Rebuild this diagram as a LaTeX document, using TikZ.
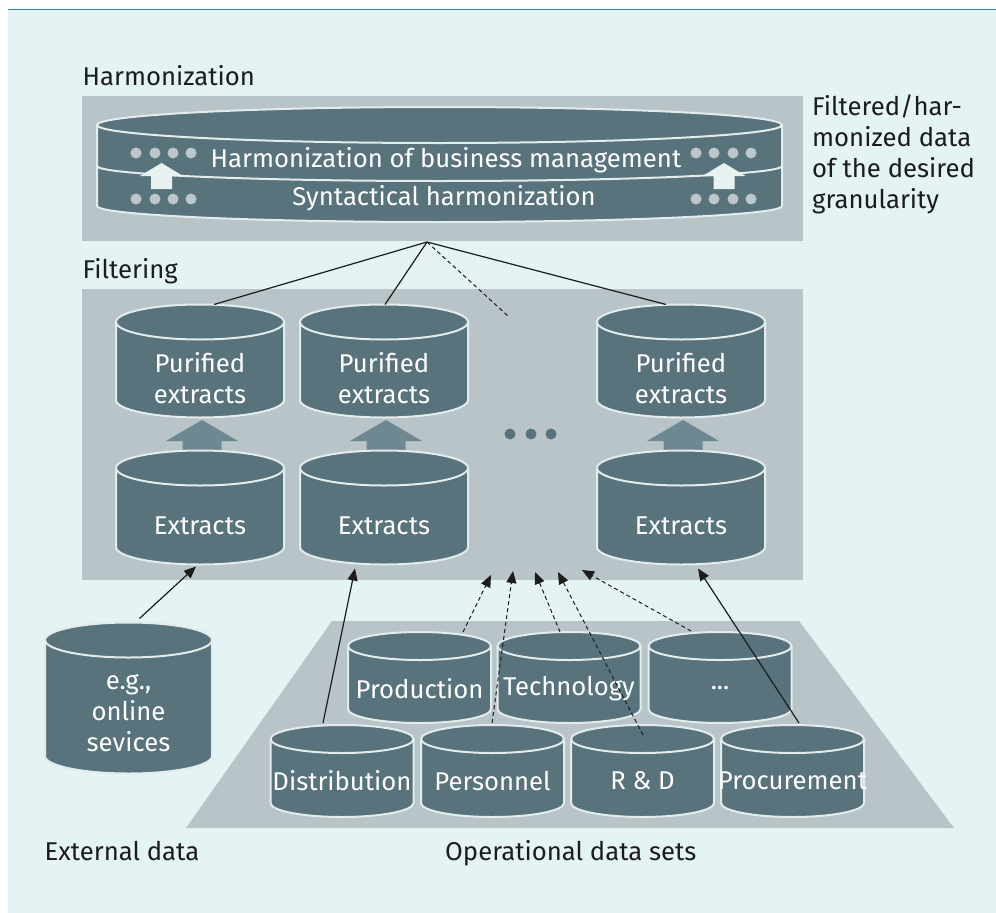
\documentclass[tikz,border=0pt]{standalone}
\usepackage{fontspec}
\setmainfont{Fira Sans}
\usetikzlibrary{calc,arrows.meta}

\definecolor{bgc}{RGB}{228,243,243}
\definecolor{rulec}{RGB}{52,138,140}
\definecolor{panelc}{RGB}{185,196,200}
\definecolor{cylc}{RGB}{88,115,124}
\definecolor{cyledge}{RGB}{226,236,236}
\definecolor{liftc}{RGB}{110,136,145}
\definecolor{dotc}{RGB}{188,199,203}
\definecolor{whitearr}{RGB}{232,242,240}
\definecolor{inkc}{RGB}{28,28,28}

\tikzset{
  cylfill/.style={fill=cylc},
  cylline/.style={draw=cyledge, line width=2pt},
  cyltext/.style={text=white, align=center, inner sep=0pt},
  label/.style={text=inkc, inner sep=0pt},
  panel/.style={fill=panelc},
  link/.style={draw=inkc, line width=1.2pt},
  linkarrow/.style={link, -{Triangle[length=12pt,width=10pt]}},
  dasharrow/.style={draw=inkc, line width=1pt, dash pattern=on 4pt off 3pt, -{Triangle[length=12pt,width=10pt]}},
  dashlink/.style={draw=inkc, line width=1pt, dash pattern=on 4pt off 3pt},
}

% database cylinder: name, cx, y of top ellipse centre, y of bottom ellipse centre,
% x radius, y radius, text shift, text
\newcommand\dbcyl[8]{%
  \fill[cylfill] ({#2-#5},#3) -- ({#2-#5},#4)
     arc[start angle=180,end angle=360,x radius=#5pt,y radius=#6pt]
     -- ({#2+#5},#3)
     arc[start angle=0,end angle=180,x radius=#5pt,y radius=#6pt] -- cycle;
  \draw[cylline] ({#2-#5},#3) -- ({#2-#5},#4)
     arc[start angle=180,end angle=360,x radius=#5pt,y radius=#6pt]
     -- ({#2+#5},#3)
     arc[start angle=0,end angle=180,x radius=#5pt,y radius=#6pt] -- cycle;
  \draw[cylline] ({#2-#5},#3)
     arc[start angle=180,end angle=360,x radius=#5pt,y radius=#6pt];
  \node[cyltext] (#1) at (#2,{(#3+#4)/2+#6+#7}) {#8};
  \coordinate (#1-t) at (#2,{#3-#6});
  \coordinate (#1-b) at (#2,{#4+#6});
}

% broad upward arrow: centre x, tip y, head base y, bottom y, head half width, shaft half width
\newcommand\liftarrow[7]{%
  \fill[#7] (#1,#2) -- ({#1+#5},#3) -- ({#1+#6},#3) -- ({#1+#6},#4)
     -- ({#1-#6},#4) -- ({#1-#6},#3) -- ({#1-#5},#3) -- cycle;
}

\begin{document}
\begin{tikzpicture}[x=1pt,y=-1pt,font=\fontsize{25.7}{31}\selectfont]
\useasboundingbox (0,0) rectangle (996,913);
\fill[white] (0,0) rectangle (996,913);
\fill[bgc] (8,10) rectangle (996,913);
\draw[rulec, line width=1.6pt] (8,9.5) -- (996,9.5);

% ---------- harmonization layer ----------
\node[label, anchor=base west] (harmlabel) at (82.5,85.7) {Harmonization};
\fill[panel] (82,96) rectangle (803,241);

\fill[cylfill] (97,125) -- (97,206)
   arc[start angle=180,end angle=360,x radius=342.5pt,y radius=16pt]
   -- (782,125)
   arc[start angle=0,end angle=180,x radius=342.5pt,y radius=18pt] -- cycle;
\draw[cylline] (97,125) -- (97,206)
   arc[start angle=180,end angle=360,x radius=342.5pt,y radius=16pt]
   -- (782,125)
   arc[start angle=0,end angle=180,x radius=342.5pt,y radius=18pt] -- cycle;
\draw[cylline] (97,125) arc[start angle=180,end angle=360,x radius=342.5pt,y radius=18pt];
\draw[cylline] (97,166) arc[start angle=180,end angle=360,x radius=342.5pt,y radius=15pt];

\foreach \x in {136,155,173,191,696,714,733,751}{
  \fill[dotc] (\x,153) circle[radius=5.5pt];
  \fill[dotc] (\x,199) circle[radius=5.5pt];
}
\liftarrow{161.5}{163}{176}{189}{21.5}{10.5}{whitearr}
\liftarrow{724}{163}{176}{189}{21.5}{10.5}{whitearr}

\node[cyltext] (bizharm) at (446,160) {Harmonization of business management};
\node[cyltext] (synharm) at (444,198) {Syntactical harmonization};

\node[label, anchor=north west, align=left]
  (result) at (812,95) {Filtered/har-\\monized data\\of the desired\\granularity};

% ---------- filtering layer ----------
\node[label, anchor=base west] (filtlabel) at (82.5,278.3) {Filtering};
\fill[panel] (82,289) rectangle (803,580);

\liftarrow{202}{420}{441}{455}{36}{19.5}{liftc}
\liftarrow{386}{420}{441}{455}{36}{19.5}{liftc}
\liftarrow{683}{420}{441}{455}{36}{19.5}{liftc}

\dbcyl{pur1}{200}{322}{400}{84}{17.5}{0}{Purified\\extracts}
\dbcyl{pur2}{384}{322}{400}{84}{17.5}{0}{Purified\\extracts}
\dbcyl{pur3}{681}{322}{400}{84}{17.5}{0}{Purified\\extracts}
\dbcyl{ext1}{200}{468}{547}{84}{17.5}{1}{Extracts}
\dbcyl{ext2}{384}{468}{547}{84}{17.5}{1}{Extracts}
\dbcyl{ext3}{681}{468}{547}{84}{17.5}{1}{Extracts}

\foreach \x in {510,531,551} \fill[cylc] (\x,434) circle[radius=5.5pt];

\coordinate (apex) at (427,242);
\coordinate (gap) at (508,316);
\draw[link] (apex) -- ($(pur1-t)+(14,0)$);
\draw[link] (apex) -- ($(pur2-t)+(1,0)$);
\draw[link] (apex) -- ($(pur3-t)+(-15,0)$);
\draw[dashlink] (apex) -- (gap);

% ---------- source data ----------
\fill[panel] (332,621) -- (799,621) -- (954,828) -- (186,828) -- cycle;

\dbcyl{prod}{419.5}{646}{709}{71.5}{14}{-3}{Production}
\dbcyl{tech}{569}{646}{709}{71.5}{14}{-3}{Technology}
\dbcyl{more}{720}{646}{709}{71.5}{14}{-3}{...}
\dbcyl{dist}{342}{739}{803}{71.5}{14}{-4}{Distribution}
\dbcyl{pers}{492.5}{739}{803}{71.5}{14}{-4}{Personnel}
\dbcyl{rnd}{642.5}{739}{803}{71.5}{14}{-4}{R \& D}
\dbcyl{proc}{792.5}{739}{803}{71.5}{14}{-4}{Procurement}

\dbcyl{online}{128.5}{640}{756}{83.5}{17.5}{-2}{e.g.,\\online\\sevices}

\draw[linkarrow] ($(online-t)+(11,-4)$) -- ($(ext1-b)+(-4,2)$);
\draw[linkarrow] ($(dist-t)+(-19,-2)$) -- ($(ext2-b)+(-29,4)$);
\draw[linkarrow] ($(proc-t)+(6.5,-2)$) -- ($(ext3-b)+(17,4)$);

\draw[dasharrow] ($(prod-t)+(43.5,0)$) -- (491,575);
\draw[dasharrow] ($(pers-t)+(-0.5,-2)$) -- (513,571);
\draw[dasharrow] ($(tech-t)+(-9,0)$) -- (535,572);
\draw[dasharrow] ($(rnd-t)+(0.5,10)$) -- (558,572);
\draw[dasharrow] ($(more-t)+(-29,-1)$) -- (582,570);

\node[label, anchor=base west] (extlabel) at (44.5,860) {External data};
\node[label, anchor=base west] (oplabel) at (445,860) {Operational data sets};
\end{tikzpicture}
\end{document}
